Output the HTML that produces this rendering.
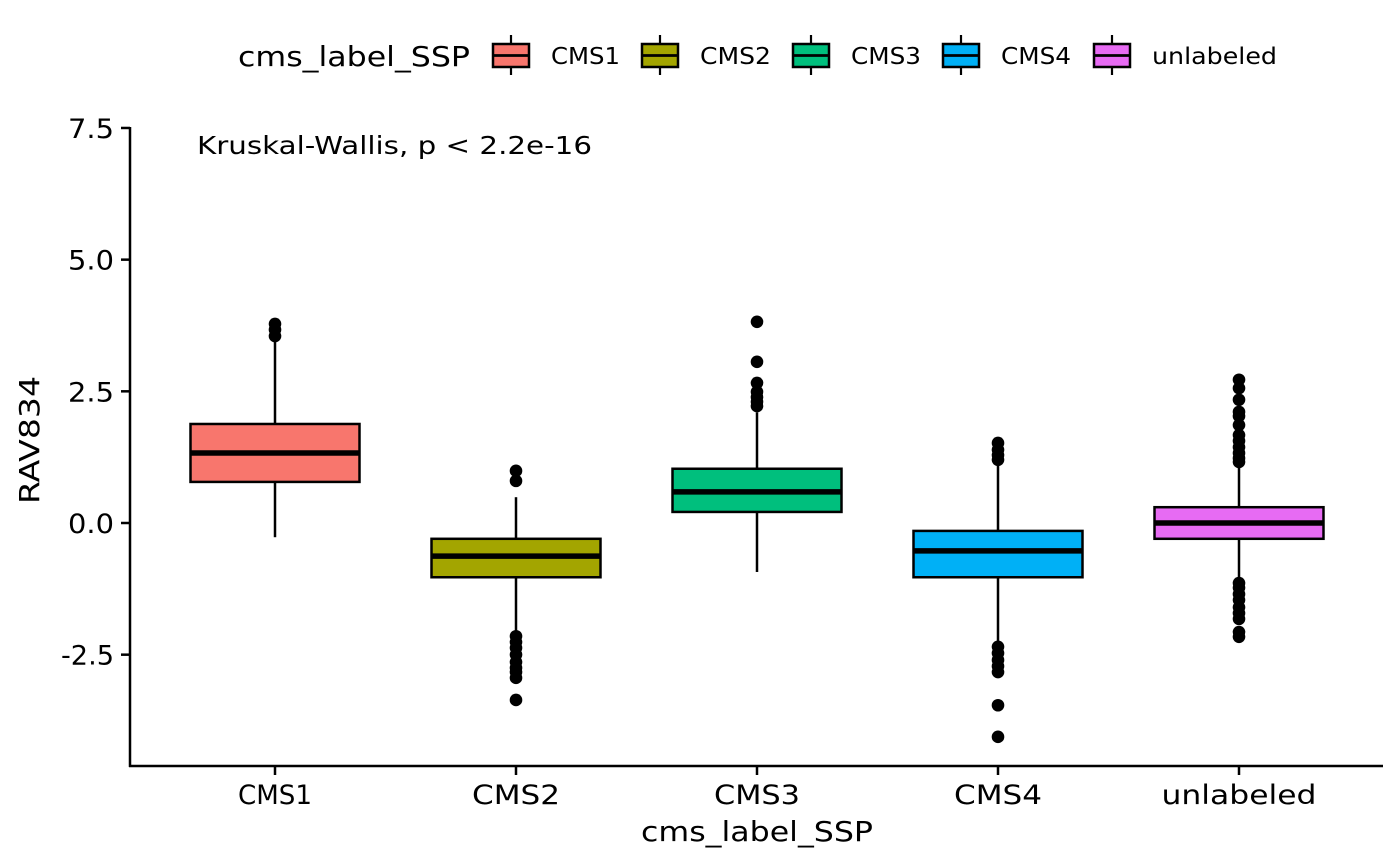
<!DOCTYPE html>
<html><head><meta charset="utf-8"><style>
html,body{margin:0;padding:0;background:#fff}
svg{display:block;font-family:"DejaVu Sans","Liberation Sans",sans-serif}
</style></head><body>
<svg id="chart" width="1400" height="865" viewBox="0 0 1400 865"></svg>
<script>
const categories = ["CMS1","CMS2","CMS3","CMS4","unlabeled"];
const colors = ["#F8766D","#A3A500","#00BF7D","#00B0F6","#E76BF3"];
const q1 = [0.78,-1.03,0.21,-1.03,-0.30];
const medians = [1.33,-0.63,0.59,-0.53,0.0];
const q3 = [1.88,-0.30,1.03,-0.15,0.30];
const whiskerLow = [-0.27,-2.07,-0.93,-2.26,-1.07];
const whiskerHigh = [3.5,0.49,2.1,1.15,1.15];
const outliers = [
  [3.78,3.67,3.55],
  [0.99,0.80,-2.15,-2.26,-2.37,-2.5,-2.64,-2.75,-2.83,-2.94,-3.36],
  [3.82,3.06,2.66,2.49,2.39,2.3,2.22],
  [1.52,1.39,1.29,1.2,-2.35,-2.47,-2.6,-2.72,-2.83,-3.46,-4.06],
  [2.72,2.56,2.34,2.11,2.03,1.86,1.67,1.56,1.44,1.33,1.23,1.16,-1.14,-1.23,-1.35,-1.46,-1.6,-1.71,-1.82,-2.07,-2.16]
];
const yTicks = [-2.5,0,2.5,5,7.5];
const yTickLabels = ["-2.5","0.0","2.5","5.0","7.5"];

const NS="http://www.w3.org/2000/svg";
const svg=document.getElementById('chart');
function y(v){return 523-v*52.67;}
function x(i){return 275+i*241;}
function mk(tag,attrs,parent){const e=document.createElementNS(NS,tag);for(const k in attrs)e.setAttribute(k,attrs[k]);(parent||svg).appendChild(e);return e;}
function fit(el,len){el.setAttribute('textLength',len);el.setAttribute('lengthAdjust','spacingAndGlyphs');}

let ax=mk('line',{x1:130,y1:127,x2:130,y2:767,stroke:'#000','stroke-width':2.5});


let bx=mk('line',{x1:129,y1:766,x2:1383,y2:766,stroke:'#000','stroke-width':2.5});



yTicks.forEach((t,i)=>{
  let tk=mk('line',{x1:121,y1:y(t),x2:130,y2:y(t),stroke:'#000','stroke-width':2.5});
  
  
  let tx=mk('text',{x:114,y:y(t)+10,'text-anchor':'end','font-size':27,fill:'#000'});
  tx.textContent=yTickLabels[i];
  fit(tx,yTickLabels[i].length===4?53:46);
  
  
});

const xLabelW=[74,88,86,88,155];
categories.forEach((c,i)=>{
  const cx=x(i),hw=84.5;
  const g=mk('g',{});
  
  
  mk('line',{x1:cx,y1:y(q3[i]),x2:cx,y2:y(whiskerHigh[i]),stroke:'#000','stroke-width':2.5},g);
  mk('line',{x1:cx,y1:y(q1[i]),x2:cx,y2:y(whiskerLow[i]),stroke:'#000','stroke-width':2.5},g);
  mk('rect',{x:cx-hw,y:y(q3[i]),width:2*hw,height:y(q1[i])-y(q3[i]),fill:colors[i],stroke:'#000','stroke-width':2.5},g);
  mk('line',{x1:cx-hw,y1:y(medians[i]),x2:cx+hw,y2:y(medians[i]),stroke:'#000','stroke-width':5.5},g);
  outliers[i].forEach(o=>{mk('circle',{cx:cx,cy:y(o),r:6.3,fill:'#000'},g);});
  let tk=mk('line',{x1:cx,y1:766,x2:cx,y2:775,stroke:'#000','stroke-width':2.5});
  
  
  let tx=mk('text',{x:cx,y:804,'text-anchor':'middle','font-size':27,fill:'#000'});
  tx.textContent=c;
  fit(tx,xLabelW[i]);
  
  
});

let xt=mk('text',{x:757,y:841,'text-anchor':'middle','font-size':28,fill:'#000'});
xt.textContent='cms_label_SSP';
fit(xt,232);


let yt=mk('text',{x:39,y:440,'text-anchor':'middle','font-size':28,fill:'#000',transform:'rotate(-90 39 440)'});
yt.textContent='RAV834';
fit(yt,128);


let an=mk('text',{x:197,y:154,'font-size':25,fill:'#000'});
an.textContent='Kruskal-Wallis, p < 2.2e-16';
fit(an,395);



let lt=mk('text',{x:238,y:66,'font-size':28,fill:'#000'});
lt.textContent='cms_label_SSP';
fit(lt,232);


const keyX=[493,642,793,943,1094];
const legW=[69,71,70,70,125];
categories.forEach((c,i)=>{
  const g=mk('g',{});
  
  
  const kx=keyX[i];
  mk('line',{x1:kx+18,y1:35,x2:kx+18,y2:75,stroke:'#000','stroke-width':2.2},g);
  mk('rect',{x:kx,y:44,width:36,height:23,fill:colors[i],stroke:'#000','stroke-width':2.5},g);
  mk('line',{x1:kx,y1:55.5,x2:kx+36,y2:55.5,stroke:'#000','stroke-width':2.8},g);
  const t=mk('text',{x:kx+58,y:64,'font-size':23,fill:'#000'},g);
  t.textContent=c;
  fit(t,legW[i]);
});
</script>
</body></html>
